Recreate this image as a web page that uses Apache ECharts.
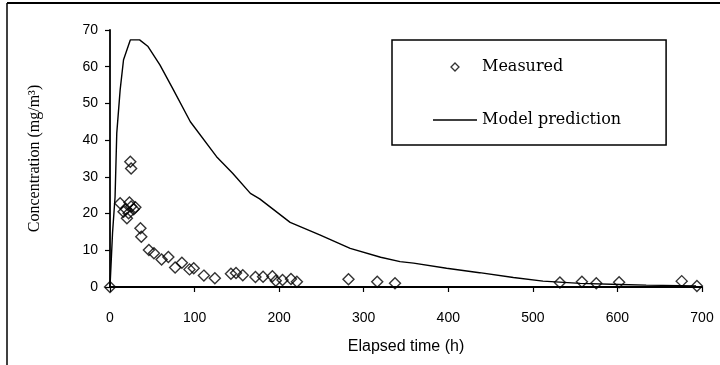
<!DOCTYPE html>
<html>
<head>
<meta charset="utf-8">
<script src="https://cdn.jsdelivr.net/npm/echarts@6/dist/echarts.min.js"></script>
<style>html,body{margin:0;padding:0;background:#fff}#c{width:720px;height:365px}</style>
</head>
<body>
<div id="c"></div>
<script>
// Measured data: elapsed time (h)
var measuredTime = [0, 12, 16, 19, 20, 22, 23, 25, 28, 30, 24, 25, 36, 37, 46, 52, 61, 69, 77, 85, 94, 99, 111, 124, 143, 149, 157, 172, 181, 192, 196, 204, 214, 221, 282, 316, 337, 532, 558, 575, 602, 676, 694];
// Measured concentration (mg/m3)
var measuredConc = [0, 22.8, 20.5, 21.2, 18.7, 20.1, 23.0, 21.9, 21.2, 21.7, 34.1, 32.3, 16.0, 13.7, 10.1, 9.2, 7.5, 8.2, 5.3, 6.6, 4.8, 5.1, 3.1, 2.4, 3.6, 3.8, 3.2, 2.7, 2.8, 2.9, 1.7, 1.9, 2.2, 1.4, 2.1, 1.4, 1.0, 1.2, 1.4, 1.0, 1.3, 1.6, 0.3];
// Model prediction curve
var modelTime = [0, 3, 6, 8, 12, 16, 24, 35, 45, 59, 75, 95, 126, 145, 166, 177, 213, 248, 284, 320, 343, 359, 398, 437, 477, 512, 556, 603, 634, 693];
var modelConc = [0, 14.7, 24.6, 41.9, 53.7, 61.9, 67.3, 67.3, 65.5, 60.5, 53.7, 45.0, 35.5, 31.0, 25.5, 24.0, 17.6, 14.2, 10.5, 8.1, 6.9, 6.5, 5.1, 3.9, 2.6, 1.6, 1.0, 0.7, 0.5, 0.3];
var xTicks = [0, 100, 200, 300, 400, 500, 600, 700];
var yTicks = [0, 10, 20, 30, 40, 50, 60, 70];

var measured = measuredTime.map(function (t, i) { return [t, measuredConc[i]]; });
var model = modelTime.map(function (t, i) { return [t, modelConc[i]]; });

var chart = echarts.init(document.getElementById('c'), null, {renderer: 'canvas'});
chart.setOption({
  animation: false,
  backgroundColor: '#fff',
  grid: {left: 110, right: 18, top: 30, bottom: 78},
  xAxis: {
    type: 'value', min: xTicks[0], max: xTicks[xTicks.length - 1], interval: 100,
    name: 'Elapsed time (h)', nameLocation: 'middle', nameGap: 52,
    nameTextStyle: {fontFamily: 'Liberation Sans', fontSize: 16, color: '#000'},
    axisLine: {show: true, lineStyle: {color: '#000', width: 1.8}},
    axisTick: {show: true, length: 5, lineStyle: {color: '#000', width: 1.2}},
    axisLabel: {margin: 24, fontFamily: 'Liberation Sans', fontSize: 14, color: '#000'},
    splitLine: {show: false}
  },
  yAxis: {
    type: 'value', min: yTicks[0], max: yTicks[yTicks.length - 1], interval: 10,
    name: 'Concentration (mg/m³)', nameLocation: 'middle', nameGap: 67, nameRotate: 90,
    nameTextStyle: {fontFamily: 'Liberation Serif', fontSize: 16, color: '#000'},
    axisLine: {show: true, lineStyle: {color: '#000', width: 1.8}},
    axisTick: {show: true, length: 5, lineStyle: {color: '#000', width: 1.2}},
    axisLabel: {margin: 12, fontFamily: 'Liberation Sans', fontSize: 14, color: '#000'},
    splitLine: {show: false}
  },
  legend: {
    left: 392, top: 40, orient: 'vertical',
    padding: [19, 45, 17, 41], itemGap: 37, itemWidth: 44, itemHeight: 8,
    symbolKeepAspect: true,
    borderColor: '#000', borderWidth: 1.5,
    textStyle: {fontFamily: 'DejaVu Serif', fontSize: 16, color: '#000'},
    data: [
      {name: 'Measured', icon: 'path://M0,-1L1,0L0,1L-1,0Z', itemStyle: {color: '#fff', borderColor: '#000', borderWidth: 1.3}},
      {name: 'Model prediction', icon: 'path://M0,0L60,0L60,2L0,2Z', itemStyle: {color: '#000', borderWidth: 0}}
    ]
  },
  series: [
    {
      name: 'Measured', type: 'scatter', data: measured, symbol: 'diamond', symbolSize: 11,
      itemStyle: {color: 'rgba(255,255,255,0)', borderColor: '#000', borderWidth: 1.4}, z: 3
    },
    {
      name: 'Model prediction', type: 'line', data: model, symbol: 'none', smooth: false,
      lineStyle: {color: '#000', width: 1.4}, itemStyle: {color: '#000'}, z: 2
    }
  ],
  graphic: [
    {type: 'line', shape: {x1: 7, y1: 3, x2: 720, y2: 3}, style: {stroke: '#000', lineWidth: 2}},
    {type: 'line', shape: {x1: 7, y1: 3, x2: 7, y2: 365}, style: {stroke: '#000', lineWidth: 1.5}}
  ]
});
</script>
</body>
</html>
